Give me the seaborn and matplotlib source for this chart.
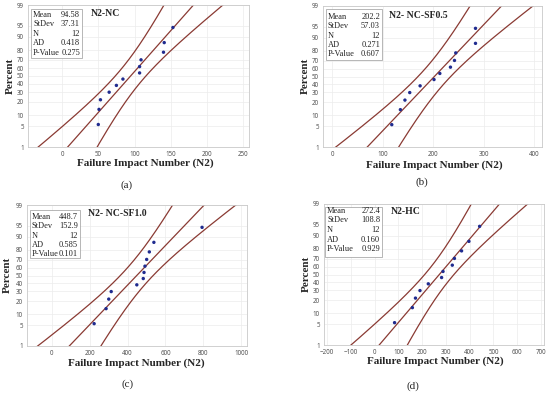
import numpy as np
import pandas as pd
import seaborn as sns
import matplotlib.pyplot as plt
from matplotlib.patches import Rectangle
from statistics import NormalDist

# median-rank plotting positions (%) used by all four samples
percent = [5.6, 13.7, 21.8, 29.8, 37.9, 46.0, 54.0, 62.1, 70.2, 78.2, 86.3, 94.4]

# failure impact numbers
n2_nc = [50, 51, 53, 65, 75, 84, 107, 107, 109, 140, 141, 153]
n2_nc_sf05 = [118, 135, 144, 153.5, 174, 201.5, 213, 234, 242, 244.5, 283.5, 283.5]
n2_nc_sf10 = [224, 287, 301, 314, 449, 483, 487, 492, 501, 515, 539, 793]
n2_hc = [84, 159, 172, 191, 226, 282, 288, 327, 336, 366, 397, 442]

titles = ["N2-NC", "N2- NC-SF0.5", "N2- NC-SF1.0", "N2-HC"]
means = [94.58, 202.2, 448.7, 272.4]
mean_text = ["94.58", "202.2", "448.7", "272.4"]
stdevs = [37.31, 57.03, 152.9, 108.8]
stdev_text = ["37.31", "57.03", "152.9", "108.8"]
counts = [12, 12, 12, 12]
ad_values = ["0.418", "0.271", "0.585", "0.160"]
p_values = ["0.275", "0.607", "0.101", "0.929"]
tags = ["(a)", "(b)", "(c)", "(d)"]

x_ticks = [[0, 50, 100, 150, 200, 250],
           [0, 100, 200, 300, 400],
           [0, 200, 400, 600, 800, 1000],
           [-200, -100, 0, 100, 200, 300, 400, 500, 600, 700]]
x_lims = [(-47, 258), (-18, 415), (-130, 1030), (-213, 713)]
pct_ticks = [1, 5, 10, 20, 30, 40, 50, 60, 70, 80, 90, 95, 99]

samples = [n2_nc, n2_nc_sf05, n2_nc_sf10, n2_hc]

# layout, in pixels of the 550x395 picture
W, H = 550, 395
axes_px = [(28, 5, 249, 147), (323, 6, 542, 147), (27, 205, 247, 346), (324, 204, 544, 345)]
box_px = [(31, 9, 82, 58), (326, 9, 382, 60), (30, 210, 80, 258), (325, 207, 382, 257)]
stat_rows = [(15, 9.4), (17, 9.3), (217, 9.3), (211, 9.5)]
title_px = [(91, 13), (389, 15), (88, 214), (391, 212)]
ylab_px = [(10, 76), (305, 76), (7, 275), (306, 274)]
xlab_px = [(145, 163), (434, 165), (136, 363), (435, 361)]
tag_px = [(127, 185), (422, 182), (128, 384), (413, 386)]

LINE = "#8a3a33"
DOT = "#1f2b8f"
SERIF = "Liberation Serif"

_nd = NormalDist()


def to_z(p):
    p = np.clip(np.asarray(p, dtype=float), 1e-6, 100 - 1e-6)
    f = np.vectorize(lambda v: _nd.inv_cdf(v / 100) if np.isfinite(v) else np.nan, otypes=[float])
    return f(p)


def to_p(z):
    f = np.vectorize(lambda v: _nd.cdf(v) * 100 if np.isfinite(v) else np.nan, otypes=[float])
    return f(np.asarray(z, dtype=float))


def fx(px):
    return px / W


def fy(py):
    return 1 - py / H


sns.set_style("white")
fig = plt.figure(figsize=(5.5, 3.95), dpi=100)

for i in range(4):
    l, t, r, b = axes_px[i]
    ax = fig.add_axes([fx(l), fy(b), (r - l) / W, (b - t) / H])
    ax.set_yscale("function", functions=(to_z, to_p))

    # fitted normal line with 95% confidence bands
    z = np.linspace(-2.7, 2.7, 200)
    pc = to_p(z)
    mu, sd, n = means[i], stdevs[i], counts[i]
    centre = mu + z * sd
    half = 1.96 * sd / np.sqrt(n) * np.sqrt(1 + z ** 2 / 2)
    curves = pd.DataFrame({
        "x": np.concatenate([centre - half, centre, centre + half]),
        "pct": np.concatenate([pc, pc, pc]),
        "curve": np.repeat(["lo", "fit", "hi"], len(z)),
    })
    sns.lineplot(data=curves, x="x", y="pct", units="curve", estimator=None,
                 sort=False, color=LINE, lw=0.9, legend=False, ax=ax)
    sns.scatterplot(x=samples[i], y=percent, color=DOT, s=6, edgecolor="none",
                    zorder=3, ax=ax)

    ax.set_xlim(*x_lims[i])
    ax.set_ylim(1, 99)
    ax.set_xticks(x_ticks[i])
    ax.set_yticks(pct_ticks)
    ax.set_yticklabels([str(v) for v in pct_ticks])
    ax.set_xlabel("")
    ax.set_ylabel("")
    ax.grid(True, color="#ececec", lw=0.5)
    ax.set_axisbelow(True)
    for s in ax.spines.values():
        s.set_color("#c9c9c9")
        s.set_linewidth(0.6)
    ax.tick_params(labelsize=4.5, colors="#555555", length=1.5, width=0.4, pad=1.5)
    for lab in ax.get_xticklabels() + ax.get_yticklabels():
        lab.set_fontfamily("Noto Sans")

    # statistics box
    x0, y0, x1, y1 = box_px[i]
    fig.patches.append(Rectangle((fx(x0), fy(y1)), (x1 - x0) / W, (y1 - y0) / H,
                                 transform=fig.transFigure, fill=True, facecolor="white",
                                 edgecolor="#9a9a9a", lw=0.5, zorder=5))
    labels = ["Mean", "StDev", "N", "AD", "P-Value"]
    vals = [mean_text[i], stdev_text[i], str(counts[i]), ad_values[i], p_values[i]]
    first, step = stat_rows[i]
    for k in range(5):
        yy = fy(first + k * step)
        fig.text(fx(x0 + 2), yy, labels[k], family=SERIF, fontsize=6, va="center",
                 ha="left", color="#222222", zorder=6)
        fig.text(fx(x1 - 2), yy, vals[k], family=SERIF, fontsize=6, va="center",
                 ha="right", color="#222222", zorder=6)

    fig.text(fx(title_px[i][0]), fy(title_px[i][1]), titles[i], family=SERIF,
             fontsize=7, fontweight="bold", va="center", ha="left")
    fig.text(fx(ylab_px[i][0]), fy(ylab_px[i][1]), "Percent", family=SERIF,
             fontsize=8, fontweight="bold", va="center", ha="center", rotation=90)
    fig.text(fx(xlab_px[i][0]), fy(xlab_px[i][1]), "Failure Impact Number (N2)",
             family=SERIF, fontsize=8, fontweight="bold", va="center", ha="center")
    fig.text(fx(tag_px[i][0]), fy(tag_px[i][1]), tags[i], family=SERIF,
             fontsize=8, va="center", ha="center")

fig.savefig("out.png", dpi=100)
